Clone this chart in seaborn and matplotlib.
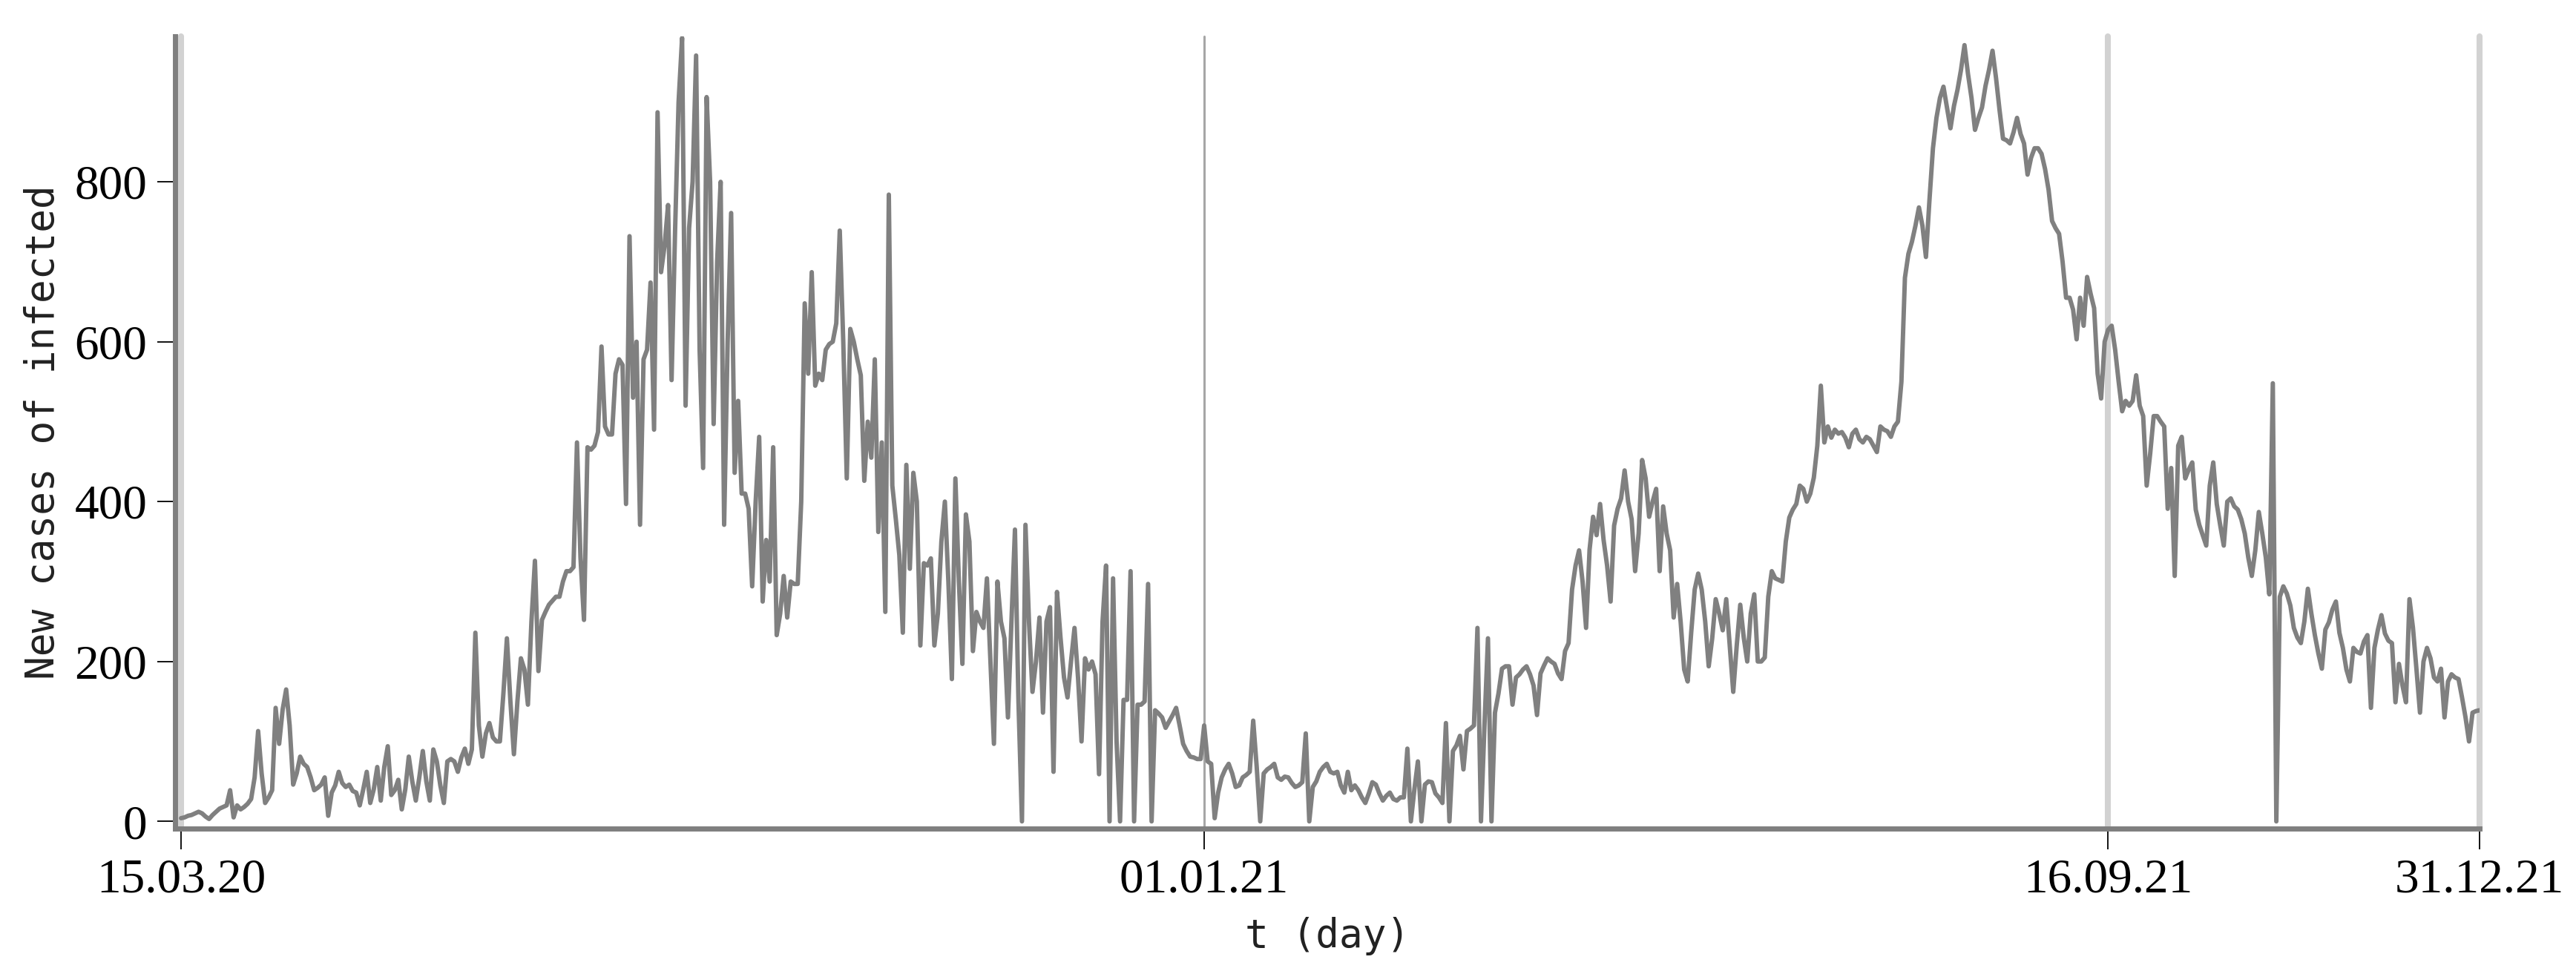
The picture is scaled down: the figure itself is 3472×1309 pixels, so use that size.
import pandas as pd
import matplotlib
matplotlib.use("Agg")
import matplotlib.pyplot as plt
import seaborn as sns

# daily series, 15.03.20 .. 31.12.21
start_date = "2020-03-15"
end_date = "2021-12-31"
new_cases = [
    4, 5, 7, 8, 10, 12, 10, 6, 3, 8,
    12, 16, 18, 20, 39, 5, 20, 15, 18, 22,
    28, 55, 113, 60, 23, 30, 39, 142, 97, 140,
    165, 120, 46, 60, 81, 72, 68, 55, 39, 42,
    46, 55, 7, 36, 45, 62, 48, 43, 46, 38,
    36, 20, 40, 62, 23, 40, 68, 26, 68, 94,
    33, 39, 52, 15, 40, 81, 50, 26, 55, 88,
    50, 26, 90, 75, 45, 23, 75, 78, 75, 62,
    80, 91, 72, 90, 236, 120, 81, 110, 123, 105,
    100, 100, 160, 229, 150, 84, 150, 204, 190, 146,
    250, 326, 188, 252, 262, 271, 276, 281, 281, 300,
    313, 313, 318, 474, 330, 252, 468, 465, 470, 487,
    594, 494, 484, 484, 560, 578, 571, 397, 732, 530,
    600, 371, 578, 590, 674, 490, 887, 687, 720, 771,
    552, 739, 900, 980, 520, 742, 800, 958, 590, 442,
    906, 800, 497, 700, 800, 371, 600, 761, 436, 526,
    410, 410, 391, 294, 400, 481, 275, 352, 300, 468,
    233, 260, 307, 255, 300, 297, 297, 400, 648, 560,
    687, 545, 560, 552, 590, 597, 600, 623, 739, 600,
    429, 616, 600, 578, 558, 426, 500, 455, 578, 362,
    474, 262, 784, 420, 378, 333, 236, 446, 316, 436,
    400, 220, 323, 320, 329, 220, 260, 350, 400, 300,
    178, 429, 300, 197, 384, 350, 213, 262, 250, 242,
    304, 200, 97, 300, 250, 229, 130, 250, 365, 150,
    0, 371, 250, 162, 200, 255, 136, 250, 268, 62,
    287, 230, 180, 155, 200, 242, 180, 100, 204, 190,
    200, 184, 59, 250, 320, 0, 304, 100, 0, 152,
    152, 313, 0, 146, 146, 150, 297, 0, 139, 135,
    130, 117, 125, 133, 142, 120, 97, 88, 81, 80,
    78, 78, 120, 75, 72, 4, 36, 55, 65, 72,
    60, 43, 45, 55, 58, 62, 126, 68, 0, 60,
    65, 68, 72, 55, 52, 56, 55, 48, 43, 45,
    49, 110, 0, 43, 50, 62, 68, 72, 62, 60,
    62, 45, 36, 62, 39, 45, 39, 30, 23, 35,
    49, 46, 35, 26, 32, 36, 28, 26, 30, 30,
    91, 0, 40, 75, 0, 46, 50, 49, 35, 30,
    23, 123, 0, 88, 95, 107, 65, 113, 116, 120,
    242, 0, 120, 229, 0, 136, 160, 191, 194, 194,
    146, 180, 184, 190, 194, 184, 170, 133, 185, 195,
    204, 200, 197, 185, 178, 213, 223, 290, 320, 339,
    300, 242, 340, 381, 358, 397, 352, 320, 275, 370,
    391, 404, 439, 400, 378, 313, 360, 452, 429, 381,
    400, 416, 313, 394, 360, 339, 255, 297, 249, 190,
    175, 236, 290, 310, 290, 250, 194, 229, 278, 260,
    239, 278, 220, 162, 220, 271, 230, 200, 260, 284,
    200, 200, 205, 281, 313, 304, 302, 300, 350, 380,
    390, 397, 420, 416, 400, 410, 430, 470, 545, 474,
    494, 480, 490, 485, 487, 480, 468, 485, 490, 478,
    474, 481, 478, 470, 462, 494, 490, 488, 481, 494,
    500, 550, 680, 710, 725, 745, 768, 745, 706, 777,
    842, 880, 905, 919, 893, 867, 895, 915, 940, 971,
    935, 905, 865, 880, 893, 920, 940, 964, 930, 890,
    854, 852, 848, 862, 880, 860, 848, 809, 830, 842,
    842, 835, 816, 790, 751, 742, 735, 700, 655, 655,
    640, 603, 655, 620, 681, 660, 642, 560, 529, 600,
    615, 620, 590, 550, 513, 526, 520, 526, 558, 520,
    507, 420, 460, 507, 507, 500, 494, 391, 442, 307,
    470, 481, 429, 440, 449, 390, 371, 358, 345, 420,
    449, 397, 370, 345, 400, 404, 394, 390, 378, 360,
    330, 307, 339, 387, 360, 330, 284, 548, 0, 281,
    294, 285, 270, 242, 230, 223, 250, 291, 260, 233,
    210, 191, 240, 249, 265, 275, 236, 217, 190, 175,
    217, 212, 210, 225, 233, 142, 217, 240, 258, 235,
    226, 223, 149, 197, 170, 149, 278, 242, 190, 136,
    200, 217, 204, 180, 175, 191, 130, 175, 184, 180,
    178, 155, 130, 100, 136, 138, 139,
]

tick_dates = ["2020-03-15", "2021-01-01", "2021-09-16", "2021-12-31"]
tick_labels = ["15.03.20", "01.01.21", "16.09.21", "31.12.21"]
y_ticks = [0, 200, 400, 600, 800]

days = pd.date_range(start_date, end_date, freq="D")
assert len(days) == len(new_cases)
df = pd.DataFrame({"date": days, "cases": new_cases})

sns.set_style("white")

fig = plt.figure(figsize=(34.73, 13.09), dpi=100)
ax = fig.add_axes([0.06795, 0.14668, 0.89433, 0.8159])

# vertical marker lines at the labelled dates
for d in pd.to_datetime(tick_dates):
    if d == pd.Timestamp("2021-01-01"):
        ax.axvline(d, color="#a6a6a6", lw=2.2, zorder=1, clip_on=False)
    else:
        ax.axvline(d, color="#d2d2d2", lw=5.8, zorder=1, clip_on=False)

sns.lineplot(data=df, x="date", y="cases", ax=ax, color="#808080",
             lw=4.3, estimator=None, zorder=3)

ax.set_xlim(pd.Timestamp(start_date) - pd.Timedelta(days=1.7), pd.Timestamp(end_date))
ax.set_ylim(-9, 982)

ax.set_xticks(pd.to_datetime(tick_dates))
ax.set_xticklabels(tick_labels)
ax.set_yticks(y_ticks)
ax.set_yticklabels([str(v) for v in y_ticks])

sns.despine(ax=ax)
for side in ["left", "bottom"]:
    ax.spines[side].set_color("#7f7f7f")
    ax.spines[side].set_linewidth(5)
    ax.spines[side].set_zorder(4)

ax.tick_params(axis="x", bottom=True, direction="out", length=20, width=1.3,
               color="black", pad=9, labelsize=47)
ax.tick_params(axis="y", left=True, direction="out", length=17, width=1.3,
               color="black", pad=10, labelsize=47)
for lab in ax.get_xticklabels() + ax.get_yticklabels():
    lab.set_fontfamily("Liberation Serif")
    lab.set_color("black")

ax.set_xlabel("t (day)", fontfamily="DejaVu Sans Mono", fontsize=38, color="#222222")
ax.set_ylabel("New cases of infected", fontfamily="DejaVu Sans Mono", fontsize=38,
              color="#222222")
ax.xaxis.label.set_va("center")
ax.yaxis.label.set_va("center")
ax.xaxis.set_label_coords(0.5, -0.1358)
ax.yaxis.set_label_coords(-0.0573, 0.5)

fig.savefig("out.png", dpi=100, facecolor="white")
